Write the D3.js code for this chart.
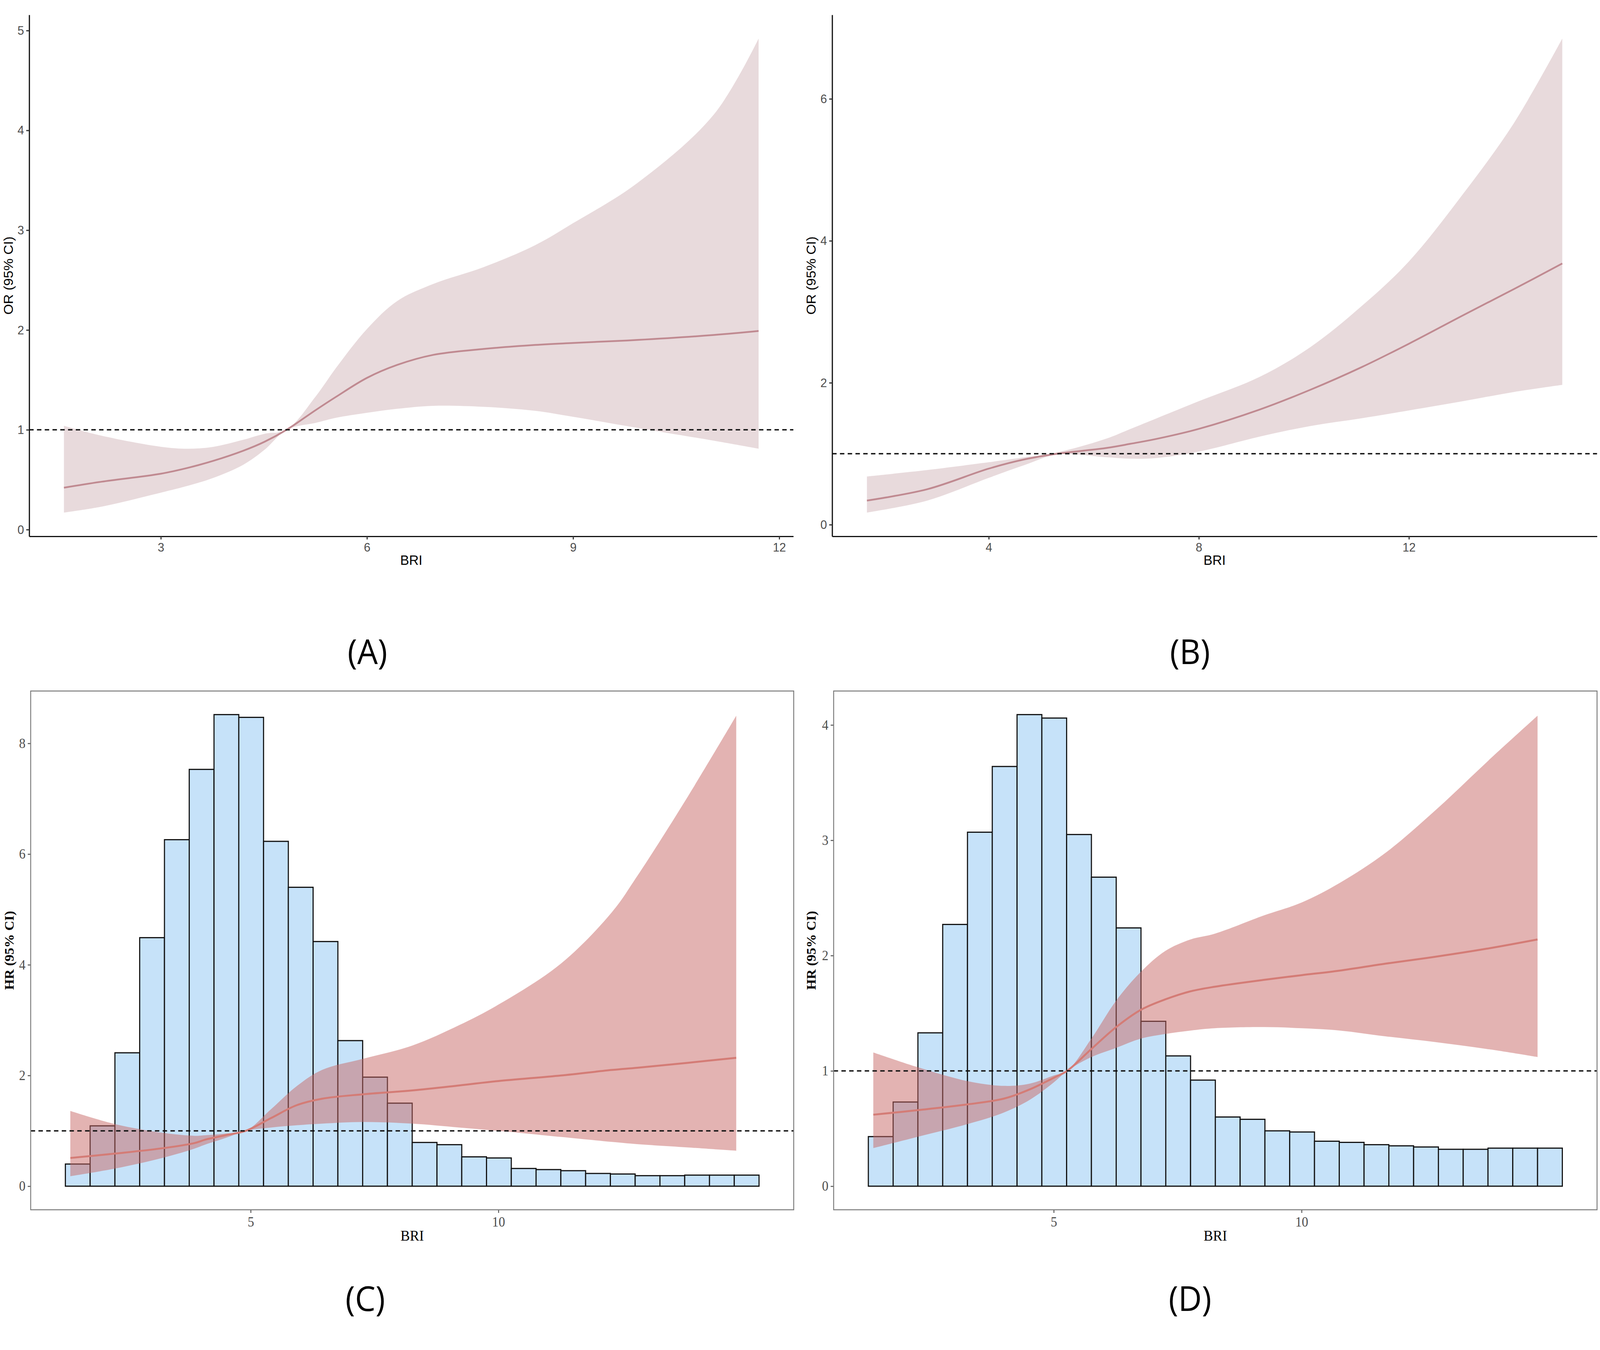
<!DOCTYPE html>
<html>
<head>
<meta charset="utf-8">
<script src="https://cdn.jsdelivr.net/npm/d3@7"></script>
<style>
  html, body { margin: 0; padding: 0; width: 100%; height: 100%; overflow: hidden; background: #ffffff; }
  svg { display: block; width: 100vw; height: 100vh; }
</style>
</head>
<body>
<script>
// ---------------- DATA ----------------
// Panel A: restricted cubic spline OR
const A_x   = [1.59, 2.14, 3.0, 3.4, 3.77, 4.2, 4.51, 4.83, 5.26, 5.55, 6.0, 6.44, 6.96, 7.7, 8.45, 9.0, 9.93, 11.05, 11.7];
const A_est = [0.42, 0.48, 0.56, 0.62, 0.69, 0.79, 0.88, 1.00, 1.20, 1.33, 1.52, 1.65, 1.75, 1.81, 1.85, 1.87, 1.90, 1.95, 1.99];
const A_lo  = [0.17, 0.23, 0.37, 0.44, 0.52, 0.65, 0.80, 1.00, 1.07, 1.12, 1.17, 1.21, 1.24, 1.23, 1.19, 1.13, 1.02, 0.89, 0.81];
const A_hi  = [1.04, 0.94, 0.83, 0.81, 0.83, 0.90, 0.96, 1.00, 1.34, 1.62, 2.01, 2.29, 2.46, 2.63, 2.85, 3.07, 3.47, 4.16, 4.92];
const A_xticks = [3, 6, 9, 12];
const A_yticks = [0, 1, 2, 3, 4, 5];

// Panel B
const B_x   = [1.68, 2.83, 4.0, 4.68, 5.31, 6.23, 6.7, 7.2, 8.0, 9.15, 10.12, 11.1, 12.0, 13.03, 14.0, 14.92];
const B_est = [0.34, 0.50, 0.79, 0.92, 1.00, 1.08, 1.14, 1.21, 1.35, 1.62, 1.90, 2.22, 2.55, 2.95, 3.32, 3.68];
const B_lo  = [0.17, 0.34, 0.66, 0.84, 0.99, 0.95, 0.93, 0.94, 1.03, 1.24, 1.39, 1.50, 1.61, 1.74, 1.87, 1.97];
const B_hi  = [0.68, 0.77, 0.88, 0.95, 1.02, 1.21, 1.35, 1.50, 1.74, 2.08, 2.50, 3.08, 3.71, 4.66, 5.66, 6.85];
const B_xticks = [4, 8, 12];
const B_yticks = [0, 2, 4, 6];

// Histogram bins shared by C and D (left edges + final right edge)
const BIN_EDGES = [1.26, 1.76, 2.26, 2.76, 3.26, 3.76, 4.26, 4.76, 5.26, 5.76, 6.26, 6.76, 7.26, 7.76,
                   8.26, 8.76, 9.26, 9.76, 10.26, 10.76, 11.26, 11.76, 12.26, 12.76, 13.26, 13.76, 14.26, 14.76, 15.26];

// Panel C: HR spline + BRI distribution
const C_bars = [0.40, 1.09, 2.41, 4.49, 6.26, 7.53, 8.52, 8.47, 6.23, 5.40, 4.42, 2.63, 1.97, 1.50,
                0.79, 0.75, 0.53, 0.51, 0.32, 0.30, 0.28, 0.23, 0.22, 0.19, 0.19, 0.20, 0.20, 0.20];
const C_x   = [1.36, 2.27, 3.26, 3.87, 4.08, 4.49, 4.9, 5.41, 5.92, 6.44, 7.26, 8.26, 9.21, 10.0, 11.26, 12.29, 12.8, 13.83, 14.8];
const C_est = [0.51, 0.59, 0.69, 0.78, 0.84, 0.92, 1.00, 1.23, 1.46, 1.58, 1.66, 1.73, 1.82, 1.90, 2.00, 2.10, 2.14, 2.23, 2.32];
const C_lo  = [0.18, 0.32, 0.52, 0.68, 0.75, 0.87, 1.00, 1.06, 1.10, 1.13, 1.16, 1.13, 1.06, 1.00, 0.89, 0.80, 0.76, 0.70, 0.64];
const C_hi  = [1.36, 1.12, 0.96, 0.91, 0.92, 0.95, 1.00, 1.39, 1.80, 2.10, 2.30, 2.54, 2.91, 3.28, 4.02, 4.95, 5.60, 7.05, 8.50];
const C_xticks = [5, 10];
const C_yticks = [0, 2, 4, 6, 8];

// Panel D
const D_bars = [0.43, 0.73, 1.33, 2.27, 3.07, 3.64, 4.09, 4.06, 3.05, 2.68, 2.24, 1.43, 1.13, 0.92,
                0.60, 0.58, 0.48, 0.47, 0.39, 0.38, 0.36, 0.35, 0.34, 0.32, 0.32, 0.33, 0.33, 0.33];
const D_x   = [1.36, 2.27, 3.27, 4.0, 4.52, 5.0, 5.27, 5.76, 6.26, 6.76, 7.25, 7.76, 8.25, 9.25, 10.0, 10.77, 11.69, 12.7, 13.74, 14.76];
const D_est = [0.62, 0.66, 0.71, 0.76, 0.84, 0.94, 1.00, 1.19, 1.38, 1.53, 1.62, 1.69, 1.73, 1.79, 1.83, 1.87, 1.93, 1.99, 2.06, 2.14];
const D_lo  = [0.33, 0.43, 0.54, 0.64, 0.75, 0.90, 1.00, 1.12, 1.20, 1.28, 1.32, 1.35, 1.37, 1.38, 1.37, 1.35, 1.30, 1.25, 1.19, 1.12];
const D_hi  = [1.16, 1.03, 0.91, 0.87, 0.89, 0.96, 1.00, 1.28, 1.61, 1.86, 2.04, 2.14, 2.19, 2.35, 2.46, 2.63, 2.89, 3.26, 3.68, 4.08];
const D_xticks = [5, 10];
const D_yticks = [0, 1, 2, 3, 4];

const REF_VALUE = 1;
const X_TITLE = "BRI";
const OR_TITLE = "OR (95% CI)";
const HR_TITLE = "HR (95% CI)";
const PANEL_LABELS = ["(A)", "(B)", "(C)", "(D)"];

// ---------------- DRAWING ----------------
const W = 4328, H = 3456;
const svg = d3.select("body").append("svg")
  .attr("viewBox", `0 0 ${W} ${H}`)
  .attr("preserveAspectRatio", "none");
svg.append("rect").attr("width", W).attr("height", H).attr("fill", "#ffffff");

function expand(lo, hi) {
  const d = (hi - lo) * 0.05;
  return [lo - d, hi + d];
}

const SANS = "'Liberation Sans', Arial, Helvetica, sans-serif";
const SANS_NARROW = "'Liberation Sans Narrow', 'Arial Narrow', 'Liberation Sans', Arial, sans-serif";
const SERIF = "'Liberation Serif', 'Times New Roman', serif";

function drawPanel(cfg) {
  const g = svg.append("g");
  const { left, right, top, bottom } = cfg.box;

  const pts = cfg.x.map((x, i) => ({ x, est: cfg.est[i], lo: cfg.lo[i], hi: cfg.hi[i] }));
  let xMin = d3.min(cfg.x), xMax = d3.max(cfg.x);
  let yMin = d3.min(cfg.lo), yMax = d3.max(cfg.hi);
  let bars = [];
  if (cfg.bars) {
    bars = cfg.bars.map((v, i) => ({ x0: cfg.edges[i], x1: cfg.edges[i + 1], v }));
    xMin = Math.min(xMin, cfg.edges[0]);
    xMax = Math.max(xMax, cfg.edges[cfg.edges.length - 1]);
    yMin = Math.min(yMin, 0);
    yMax = Math.max(yMax, d3.max(cfg.bars));
  }
  const xs = d3.scaleLinear().domain(expand(xMin, xMax)).range([left, right]);
  const ys = d3.scaleLinear().domain(expand(yMin, yMax)).range([bottom, top]);

  // histogram
  if (bars.length) {
    g.append("g").selectAll("rect").data(bars).join("rect")
      .attr("x", d => xs(d.x0))
      .attr("y", d => ys(d.v))
      .attr("width", d => xs(d.x1) - xs(d.x0))
      .attr("height", d => ys(0) - ys(d.v))
      .attr("fill", "#c6e2f9")
      .attr("stroke", "#111111")
      .attr("stroke-width", 3);
  }

  // ribbon
  const curve = d3.curveCatmullRom.alpha(0.5);
  const area = d3.area().x(d => xs(d.x)).y0(d => ys(d.lo)).y1(d => ys(d.hi)).curve(curve);
  g.append("path").datum(pts).attr("d", area)
    .attr("fill", cfg.bandColor).attr("fill-opacity", cfg.bandOpacity);

  // estimate line
  const line = d3.line().x(d => xs(d.x)).y(d => ys(d.est)).curve(curve);
  g.append("path").datum(pts).attr("d", line)
    .attr("fill", "none").attr("stroke", cfg.lineColor).attr("stroke-width", cfg.lineWidth)
    .attr("stroke-linecap", "butt");

  // reference dashed line
  g.append("line")
    .attr("x1", left).attr("x2", right)
    .attr("y1", ys(REF_VALUE)).attr("y2", ys(REF_VALUE))
    .attr("stroke", "#111111").attr("stroke-width", 3.5)
    .attr("stroke-dasharray", "12 9");

  // axes
  const font = cfg.serif ? SERIF : SANS;
  const tickFont = cfg.serif ? SERIF : SANS_NARROW;
  const tickFs = cfg.serif ? 35 : 32;
  const xAxis = d3.axisBottom(xs).tickValues(cfg.xticks).tickSizeInner(8).tickSizeOuter(0)
    .tickPadding(cfg.serif ? 10 : 8).tickFormat(d3.format("d"));
  const yAxis = d3.axisLeft(ys).tickValues(cfg.yticks).tickSizeInner(8).tickSizeOuter(0)
    .tickPadding(6).tickFormat(d3.format("d"));

  const gx = g.append("g").attr("transform", `translate(0,${bottom})`).call(xAxis);
  const gy = g.append("g").attr("transform", `translate(${left},0)`).call(yAxis);
  [gx, gy].forEach(ax => {
    ax.selectAll("text").attr("font-family", tickFont).attr("font-size", tickFs).attr("fill", "#4d4d4d");
    ax.selectAll(".tick line").attr("stroke", cfg.serif ? "#555555" : "#333333").attr("stroke-width", cfg.serif ? 2.5 : 3);
    if (cfg.serif) {
      ax.select(".domain").remove();
    } else {
      ax.select(".domain").attr("stroke", "#111111").attr("stroke-width", 3.2);
    }
  });

  if (cfg.serif) {
    g.append("rect")
      .attr("x", left).attr("y", top)
      .attr("width", right - left).attr("height", bottom - top)
      .attr("fill", "none").attr("stroke", "#7a7a7a").attr("stroke-width", 2.5);
  }

  // titles
  g.append("text")
    .attr("x", (left + right) / 2).attr("y", cfg.xTitleY)
    .attr("text-anchor", "middle")
    .attr("font-family", font).attr("font-size", cfg.serif ? 38 : 36)
    .attr("fill", "#000000").text(X_TITLE);

  g.append("text")
    .attr("transform", `translate(${cfg.yTitleX},${(top + bottom) / 2}) rotate(-90)`)
    .attr("text-anchor", "middle")
    .attr("font-family", font).attr("font-size", 35)
    .attr("font-weight", cfg.serif ? "bold" : "normal")
    .attr("fill", "#000000").text(cfg.yTitle);

  // panel label
  svg.append("text")
    .attr("x", cfg.label.x).attr("y", cfg.label.y)
    .attr("text-anchor", "middle")
    .attr("font-family", "'Open Sans', 'Noto Sans', sans-serif")
    .attr("font-size", 88).attr("fill", "#000000")
    .text(cfg.label.text);
}

drawPanel({
  box: { left: 79, right: 2146, top: 38, bottom: 1373 },
  x: A_x, est: A_est, lo: A_lo, hi: A_hi,
  xticks: A_xticks, yticks: A_yticks,
  bandColor: "#e8dadc", bandOpacity: 1, lineColor: "#c08a91", lineWidth: 4.5,
  serif: false, yTitle: OR_TITLE, xTitleY: 1446, yTitleX: 35,
  label: { text: PANEL_LABELS[0], x: 994, y: 1700 }
});

drawPanel({
  box: { left: 2251, right: 4320, top: 38, bottom: 1373 },
  x: B_x, est: B_est, lo: B_lo, hi: B_hi,
  xticks: B_xticks, yticks: B_yticks,
  bandColor: "#e8dadc", bandOpacity: 1, lineColor: "#c08a91", lineWidth: 4.5,
  serif: false, yTitle: OR_TITLE, xTitleY: 1446, yTitleX: 2206,
  label: { text: PANEL_LABELS[1], x: 3219, y: 1700 }
});

drawPanel({
  box: { left: 83, right: 2147, top: 1769, bottom: 3097 },
  x: C_x, est: C_est, lo: C_lo, hi: C_hi,
  bars: C_bars, edges: BIN_EDGES,
  xticks: C_xticks, yticks: C_yticks,
  bandColor: "#c86866", bandOpacity: 0.5, lineColor: "#d47c76", lineWidth: 5,
  serif: true, yTitle: HR_TITLE, xTitleY: 3176, yTitleX: 37,
  label: { text: PANEL_LABELS[2], x: 988, y: 3356 }
});

drawPanel({
  box: { left: 2255, right: 4320, top: 1769, bottom: 3097 },
  x: D_x, est: D_est, lo: D_lo, hi: D_hi,
  bars: D_bars, edges: BIN_EDGES,
  xticks: D_xticks, yticks: D_yticks,
  bandColor: "#c86866", bandOpacity: 0.5, lineColor: "#d47c76", lineWidth: 5,
  serif: true, yTitle: HR_TITLE, xTitleY: 3176, yTitleX: 2206,
  label: { text: PANEL_LABELS[3], x: 3219, y: 3356 }
});
</script>
</body>
</html>
